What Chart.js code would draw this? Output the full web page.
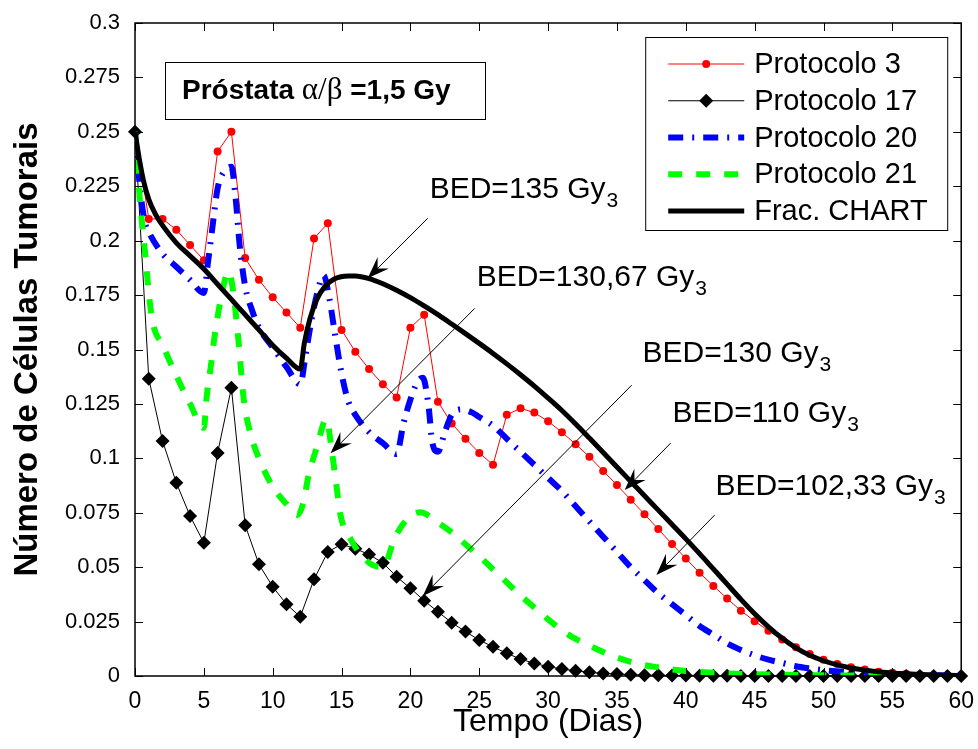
<!DOCTYPE html>
<html>
<head>
<meta charset="utf-8">
<script src="https://cdn.jsdelivr.net/npm/chart.js@4.4.0/dist/chart.umd.min.js"></script>
<style>
  html, body { margin: 0; padding: 0; background: #fff; }
</style>
</head>
<body>
<canvas id="chart" width="978" height="749"></canvas>
<script>
const FONT = "'Liberation Sans', Arial, sans-serif";

// tick values and labels
const xTicks = [0, 5, 10, 15, 20, 25, 30, 35, 40, 45, 50, 55, 60];
const yTicks = [0, 0.025, 0.05, 0.075, 0.1, 0.125, 0.15, 0.175, 0.2, 0.225, 0.25, 0.275, 0.3];
const yTickLabels = ["0", "0.025", "0.05", "0.075", "0.1", "0.125", "0.15", "0.175", "0.2", "0.225", "0.25", "0.275", "0.3"];

// daily series (markers every day)
const days = [0, 1, 2, 3, 4, 5, 6, 7, 8, 9, 10, 11, 12, 13, 14, 15, 16, 17, 18, 19, 20,
  21, 22, 23, 24, 25, 26, 27, 28, 29, 30, 31, 32, 33, 34, 35, 36, 37, 38, 39, 40,
  41, 42, 43, 44, 45, 46, 47, 48, 49, 50, 51, 52, 53, 54, 55, 56, 57, 58, 59, 60];

const protocolo3 = [0.250, 0.210, 0.210, 0.205, 0.198, 0.191, 0.241, 0.250, 0.192, 0.182, 0.174,
  0.167, 0.160, 0.201, 0.208, 0.159, 0.149, 0.141, 0.134, 0.128, 0.160,
  0.166, 0.126, 0.116, 0.109, 0.1025, 0.097, 0.120, 0.123, 0.121, 0.117,
  0.112, 0.1065, 0.1007, 0.0942, 0.0877, 0.081, 0.0743, 0.0675, 0.0606, 0.054,
  0.0474, 0.0414, 0.0356, 0.030, 0.0252, 0.0208, 0.0168, 0.0132, 0.0101, 0.0075,
  0.0055, 0.004, 0.003, 0.002, 0.0015, 0.001, 0.0007, 0.0005, 0.0003, 0.0002];

const protocolo17 = [0.250, 0.1366, 0.108, 0.0888, 0.0735, 0.0612, 0.1025, 0.1324, 0.0693, 0.0513, 0.041,
  0.033, 0.0272, 0.0444, 0.057, 0.0605, 0.0585, 0.0558, 0.052, 0.0456, 0.0403,
  0.0346, 0.0295, 0.0245, 0.0204, 0.0165, 0.0134, 0.0104, 0.0078, 0.0058, 0.0043,
  0.0032, 0.0024, 0.0017, 0.0012, 0.0009, 0.0006, 0.0004, 0.0003, 0.0002, 0.0002,
  0.0001, 0.0001, 0.0001, 0, 0, 0, 0, 0, 0, 0,
  0, 0, 0, 0, 0, 0, 0, 0, 0, 0];

// smooth series (no markers)
const p20Days = [0, 0.2, 0.4, 0.7, 1, 2, 3, 4, 5, 5.3, 5.6, 6, 6.5, 7, 7.3, 7.6, 8, 8.5, 9, 10,
  11, 12, 12.4, 12.8, 13.2, 13.7, 14.1, 14.5, 15, 15.5, 16, 17, 18, 19, 19.5, 20, 20.5, 20.9,
  21.3, 21.6, 22, 22.5, 23, 23.7, 24.5, 25, 26, 27, 28, 29, 30, 31, 32, 33, 34, 35, 36, 37,
  38, 39, 40, 41, 42, 43, 44, 45, 46, 47, 48, 49, 50, 52, 54, 56, 58, 60];
const protocolo20 = [0.250, 0.235, 0.222, 0.209, 0.204, 0.194, 0.188, 0.182, 0.176, 0.190, 0.205, 0.224, 0.232, 0.234, 0.220, 0.198, 0.179, 0.168, 0.160, 0.151,
  0.142, 0.134, 0.148, 0.163, 0.175, 0.184, 0.174, 0.158, 0.139, 0.126, 0.120, 0.112, 0.107, 0.102, 0.116, 0.127, 0.135, 0.137,
  0.125, 0.107, 0.103, 0.112, 0.120, 0.1225, 0.121, 0.119, 0.115, 0.109, 0.103, 0.097, 0.091, 0.085, 0.078, 0.071, 0.064, 0.057, 0.050, 0.044,
  0.038, 0.033, 0.028, 0.023, 0.019, 0.015, 0.012, 0.0095, 0.0075, 0.006, 0.0045, 0.0035, 0.0027, 0.0017, 0.001, 0.0006, 0.0003, 0.0002];

const p21Days = [0, 0.2, 0.4, 0.6, 0.8, 1, 1.3, 2, 3, 4, 5, 5.2, 5.5, 5.8, 6.2, 6.8, 7.1, 7.5, 7.9, 8.4,
  9, 10, 11, 11.8, 12.2, 12.6, 13.2, 13.9, 14.3, 14.6, 14.9, 15.7, 17, 18, 18.9, 20, 20.7, 22,
  23, 24, 25, 26, 27, 28, 29, 30, 31, 32, 33, 34, 35, 36, 37, 38, 39, 40, 42, 45, 50, 55, 60];
const protocolo21 = [0.250, 0.232, 0.215, 0.203, 0.190, 0.176, 0.162, 0.152, 0.138, 0.125, 0.114, 0.128, 0.142, 0.157, 0.172, 0.186, 0.178, 0.155, 0.127, 0.111,
  0.100, 0.087, 0.079, 0.074, 0.079, 0.092, 0.105, 0.118, 0.103, 0.089, 0.0746, 0.0624, 0.052, 0.050, 0.064, 0.0735, 0.0752, 0.0705,
  0.066, 0.0605, 0.055, 0.049, 0.043, 0.037, 0.0315, 0.026, 0.021, 0.017, 0.014, 0.011, 0.0085, 0.0065, 0.005, 0.004, 0.003, 0.0023, 0.0015, 0.0008, 0.0003, 0.0001, 0];

const chartDays = [0, 0.3, 0.6, 1, 1.5, 2, 3, 4, 5, 6, 7, 8, 9, 10, 11, 12, 12.3, 12.7, 13.2, 13.8,
  14.5, 15.5, 16, 17, 18, 19, 20, 21, 22, 23, 24, 25, 26, 27, 28, 29, 30, 31, 32, 33,
  34, 35, 36, 37, 38, 39, 40, 41, 42, 43, 44, 45, 46, 47, 48, 49, 50, 51, 52, 53, 54, 55, 56, 57, 58, 59, 60];
const fracChart = [0.250, 0.238, 0.228, 0.219, 0.212, 0.207, 0.199, 0.193, 0.187, 0.180, 0.173, 0.166, 0.159, 0.152, 0.146, 0.141, 0.153, 0.164, 0.173, 0.179,
  0.1825, 0.1838, 0.1838, 0.1826, 0.1802, 0.1772, 0.1738, 0.170, 0.166, 0.1617, 0.1573, 0.1528, 0.1482, 0.1434, 0.1384, 0.1332, 0.1277, 0.122, 0.1158, 0.1093,
  0.1027, 0.096, 0.0894, 0.0828, 0.0762, 0.0696, 0.063, 0.0562, 0.0492, 0.0422, 0.0352, 0.0286, 0.0226, 0.0173, 0.0129, 0.0095, 0.007, 0.0051, 0.0037, 0.0027, 0.002, 0.0014, 0.001, 0.0007, 0.0005, 0.0003, 0.0002];

// annotations (data coordinates)
const bedLabels = ["BED=135 Gy", "BED=130,67 Gy", "BED=130 Gy", "BED=110 Gy", "BED=102,33 Gy"];
const bedTextAt = [[21.4, 0.2244], [24.81, 0.1838], [36.86, 0.1489], [39.03, 0.1213], [42.15, 0.0882]];
const bedArrowFrom = [[21.26, 0.2103], [24.67, 0.1689], [36.07, 0.1336], [38.9, 0.107], [42.09, 0.0739]];
const bedArrowTo = [[16.9, 0.1827], [14.2, 0.1023], [20.9, 0.0367], [35.56, 0.0854], [37.86, 0.0464]];

function pts(xs, ys) {
  return xs.map((x, i) => ({ x: x, y: ys[i] }));
}

function drawArrow(ctx, x0, y0, x1, y1) {
  const dx = x0 - x1, dy = y0 - y1;
  const len = Math.hypot(dx, dy);
  const ux = dx / len, uy = dy / len;
  const px = -uy, py = ux;
  ctx.beginPath();
  ctx.moveTo(x0, y0);
  ctx.lineTo(x1 + ux * 12, y1 + uy * 12);
  ctx.stroke();
  ctx.beginPath();
  ctx.moveTo(x1, y1);
  ctx.lineTo(x1 + ux * 22 + px * 8, y1 + uy * 22 + py * 8);
  ctx.lineTo(x1 + ux * 14, y1 + uy * 14);
  ctx.lineTo(x1 + ux * 22 - px * 8, y1 + uy * 22 - py * 8);
  ctx.closePath();
  ctx.fill();
}

const decorPlugin = {
  id: "decor",
  afterDraw(chart) {
    const { ctx, chartArea: ca, scales } = chart;
    const sx = scales.x, sy = scales.y;
    ctx.save();

    // axes box with inward ticks
    ctx.strokeStyle = "#000";
    ctx.lineWidth = 1.5;
    ctx.strokeRect(ca.left, ca.top, ca.right - ca.left, ca.bottom - ca.top);
    ctx.lineWidth = 1;
    ctx.beginPath();
    xTicks.forEach(v => {
      const x = Math.round(sx.getPixelForValue(v)) + 0.5;
      ctx.moveTo(x, ca.bottom); ctx.lineTo(x, ca.bottom - 8);
      ctx.moveTo(x, ca.top); ctx.lineTo(x, ca.top + 8);
    });
    yTicks.forEach(v => {
      const y = Math.round(sy.getPixelForValue(v)) + 0.5;
      ctx.moveTo(ca.left, y); ctx.lineTo(ca.left + 8, y);
      ctx.moveTo(ca.right, y); ctx.lineTo(ca.right - 8, y);
    });
    ctx.stroke();

    // BED arrows and labels
    ctx.fillStyle = "#000";
    ctx.lineWidth = 1;
    bedLabels.forEach((label, i) => {
      const x0 = sx.getPixelForValue(bedArrowFrom[i][0]);
      const y0 = sy.getPixelForValue(bedArrowFrom[i][1]);
      const x1 = sx.getPixelForValue(bedArrowTo[i][0]);
      const y1 = sy.getPixelForValue(bedArrowTo[i][1]);
      drawArrow(ctx, x0, y0, x1, y1);
      const tx = sx.getPixelForValue(bedTextAt[i][0]);
      const ty = sy.getPixelForValue(bedTextAt[i][1]) + 10.5;
      ctx.font = "30px " + FONT;
      ctx.textAlign = "left";
      ctx.textBaseline = "alphabetic";
      ctx.fillText(label, tx, ty);
      const w = ctx.measureText(label).width;
      ctx.font = "21px " + FONT;
      ctx.fillText("3", tx + w + 1, ty + 9);
    });

    // title box
    const bx = ca.left + 30, by = ca.top + 39;
    ctx.fillStyle = "#fff";
    ctx.fillRect(bx, by, 320, 57);
    ctx.strokeStyle = "#000";
    ctx.lineWidth = 1;
    ctx.strokeRect(bx + 0.5, by + 0.5, 320, 57);
    ctx.fillStyle = "#000";
    let cx = bx + 17;
    const base = by + 37;
    ctx.font = "bold 28px " + FONT;
    ctx.fillText("Próstata ", cx, base);
    cx += ctx.measureText("Próstata ").width;
    ctx.font = "31px 'Liberation Serif', serif";
    ctx.fillText("α/β", cx, base);
    cx += ctx.measureText("α/β").width;
    ctx.font = "bold 28px " + FONT;
    ctx.fillText(" =1,5 Gy", cx, base);

    // legend box
    const lw = 302, lh = 193;
    const lx = ca.right - 316, ly = ca.top + 14;
    ctx.fillStyle = "#fff";
    ctx.fillRect(lx, ly, lw, lh);
    ctx.strokeRect(lx + 0.5, ly + 0.5, lw, lh);
    chart.data.datasets.forEach((ds, i) => {
      const y = ly + 27 + i * 36.75;
      const a = lx + 23, b = lx + 99, m = (a + b) / 2;
      ctx.beginPath();
      ctx.setLineDash(ds.borderDash || []);
      ctx.lineWidth = ds.borderWidth;
      ctx.strokeStyle = ds.borderColor;
      ctx.moveTo(a, y); ctx.lineTo(b, y);
      ctx.stroke();
      ctx.setLineDash([]);
      if (ds.pointRadius > 0) {
        ctx.fillStyle = ds.pointBackgroundColor;
        ctx.beginPath();
        if (ds.pointStyle === "rectRot") {
          const r = ds.pointRadius;
          ctx.moveTo(m, y - r); ctx.lineTo(m + r, y); ctx.lineTo(m, y + r); ctx.lineTo(m - r, y);
          ctx.closePath();
        } else {
          ctx.arc(m, y, ds.pointRadius, 0, Math.PI * 2);
        }
        ctx.fill();
      }
      ctx.fillStyle = "#000";
      ctx.font = "29px " + FONT;
      ctx.textBaseline = "middle";
      ctx.fillText(ds.label, lx + 109, y + 1);
      ctx.textBaseline = "alphabetic";
    });
    ctx.restore();
  }
};

new Chart(document.getElementById("chart"), {
  type: "line",
  data: {
    datasets: [
      {
        label: "Protocolo 3",
        data: pts(days, protocolo3),
        borderColor: "#ff0000",
        borderWidth: 1,
        pointRadius: 4,
        pointStyle: "circle",
        pointBackgroundColor: "#ff0000",
        pointBorderWidth: 0,
        tension: 0,
        clip: false,
        order: 5
      },
      {
        label: "Protocolo 17",
        data: pts(days, protocolo17),
        borderColor: "#000000",
        borderWidth: 1,
        pointRadius: 7,
        pointStyle: "rectRot",
        pointBackgroundColor: "#000000",
        pointBorderWidth: 0,
        tension: 0,
        clip: false,
        order: 4
      },
      {
        label: "Protocolo 20",
        data: pts(p20Days, protocolo20),
        borderColor: "#0000ff",
        borderWidth: 6,
        borderDash: [15, 9, 2, 9],
        pointRadius: 0,
        cubicInterpolationMode: "monotone",
        order: 3
      },
      {
        label: "Protocolo 21",
        data: pts(p21Days, protocolo21),
        borderColor: "#00ff00",
        borderWidth: 6,
        borderDash: [14, 14],
        pointRadius: 0,
        cubicInterpolationMode: "monotone",
        order: 2
      },
      {
        label: "Frac. CHART",
        data: pts(chartDays, fracChart),
        borderColor: "#000000",
        borderWidth: 5,
        pointRadius: 0,
        cubicInterpolationMode: "monotone",
        order: 1
      }
    ]
  },
  options: {
    responsive: false,
    animation: false,
    events: [],
    layout: { padding: { left: 0, right: 16, top: 23, bottom: 0 } },
    plugins: {
      legend: { display: false },
      tooltip: { enabled: false }
    },
    scales: {
      x: {
        type: "linear",
        min: 0,
        max: 60,
        afterBuildTicks: s => { s.ticks = xTicks.map(v => ({ value: v })); },
        afterFit: s => { s.height = 73; },
        grid: { display: false },
        border: { display: false },
        ticks: {
          color: "#000",
          font: { family: FONT, size: 23 },
          padding: 4,
          maxRotation: 0,
          autoSkip: false,
          callback: v => String(v)
        },
        title: {
          display: true,
          text: "Tempo (Dias)",
          color: "#000",
          font: { family: FONT, size: 32 },
          padding: { top: 0, bottom: 8 }
        }
      },
      y: {
        type: "linear",
        min: 0,
        max: 0.3,
        afterBuildTicks: s => { s.ticks = yTicks.map(v => ({ value: v })); },
        afterFit: s => { s.width = 135; },
        grid: { display: false },
        border: { display: false },
        ticks: {
          color: "#000",
          font: { family: FONT, size: 22 },
          padding: 7,
          autoSkip: false,
          callback: (v, i) => yTickLabels[i]
        },
        title: {
          display: true,
          text: "Número de Células Tumorais",
          color: "#000",
          font: { family: FONT, size: 33, weight: "bold" },
          padding: { top: 8, bottom: 0 }
        }
      }
    }
  },
  plugins: [decorPlugin]
});
</script>
</body>
</html>
